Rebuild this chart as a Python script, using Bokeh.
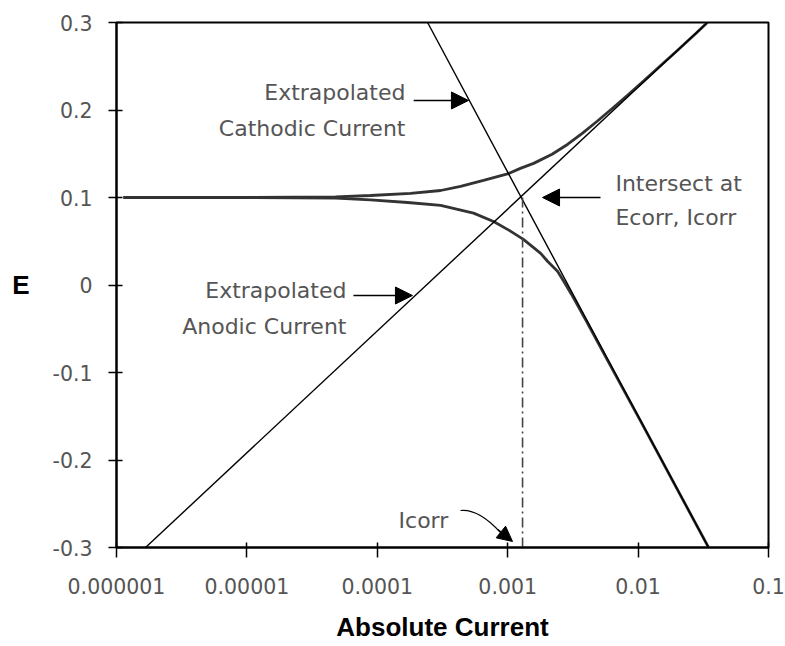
from bokeh.plotting import figure
from bokeh.models import Range1d, FixedTicker, Label, Arrow, NormalHead
from bokeh.embed import file_html
from bokeh.resources import INLINE

# ---- data ----
upper_current = [1.13e-6, 1.07e-5, 4.78e-5, 8.87e-5, 1.80e-4, 3.06e-4, 4.35e-4, 6.52e-4,
                 9.97e-4, 1.25e-3, 1.58e-3, 2.19e-3, 2.89e-3, 3.75e-3, 4.88e-3, 6.40e-3,
                 8.34e-3, 1.106e-2, 1.483e-2, 1.99e-2, 2.77e-2, 3.40e-2]
upper_potential = [0.1, 0.1, 0.1006, 0.1023, 0.1046, 0.108, 0.1126, 0.1195,
                   0.127, 0.1333, 0.139, 0.1494, 0.1609, 0.1736, 0.1874, 0.2023,
                   0.2172, 0.2333, 0.2506, 0.2678, 0.2874, 0.3]
lower_current = [1.13e-6, 1.07e-5, 4.78e-5, 8.87e-5, 1.71e-4, 3.06e-4, 5.47e-4, 7.79e-4,
                 1.027e-3, 1.32e-3, 1.79e-3, 2.02e-3, 2.41e-3, 2.69e-3, 3.08e-3, 4.01e-3,
                 5.71e-3, 1.043e-2, 3.47e-2]
lower_potential = [0.1, 0.1, 0.0994, 0.0972, 0.0943, 0.0909, 0.0821, 0.0726,
                   0.0624, 0.0521, 0.0362, 0.0271, 0.0157, 0.0043, -0.0105, -0.0413,
                   -0.0835, -0.1553, -0.3]
anodic_line_current = [1.67e-6, 3.40e-2]
anodic_line_potential = [-0.3, 0.3]
cathodic_line_current = [2.43e-4, 3.47e-2]
cathodic_line_potential = [0.3, -0.3]
icorr = 1.3e-3
ecorr = 0.1

x_ticks = [1e-6, 1e-5, 1e-4, 1e-3, 1e-2, 1e-1]
x_tick_labels = ["0.000001", "0.00001", "0.0001", "0.001", "0.01", "0.1"]
y_ticks = [-0.3, -0.2, -0.1, 0, 0.1, 0.2, 0.3]
y_tick_labels = ["-0.3", "-0.2", "-0.1", "0", "0.1", "0.2", "0.3"]

GREY = "#555555"
TFONT = "DejaVu Sans"

p = figure(width=785, height=646, x_axis_type="log",
           x_range=Range1d(1e-6, 0.1), y_range=Range1d(-0.3, 0.3),
           output_backend="svg", toolbar_location=None,
           min_border_left=116, min_border_right=17, min_border_top=22, min_border_bottom=99)
p.grid.visible = False
p.outline_line_color = "black"
p.outline_line_width = 2
p.background_fill_color = "white"
p.border_fill_color = "white"

p.xaxis.ticker = FixedTicker(ticks=x_ticks, minor_ticks=[])
p.xaxis.major_label_overrides = {t: s for t, s in zip(x_ticks, x_tick_labels)}
p.yaxis.ticker = FixedTicker(ticks=y_ticks, minor_ticks=[])
p.yaxis.major_label_overrides = {t: s for t, s in zip(y_ticks, y_tick_labels)}

for ax in (p.xaxis[0], p.yaxis[0]):
    ax.axis_line_color = "black"
    ax.axis_line_width = 2
    ax.major_tick_line_color = "black"
    ax.major_tick_line_width = 1.5
    ax.minor_tick_line_color = None
    ax.major_label_text_font = TFONT
    ax.major_label_text_font_size = "20.5px"
    ax.major_label_text_color = GREY
    ax.axis_label_text_font = "Liberation Sans"
    ax.axis_label_text_font_size = "26px"
    ax.axis_label_text_font_style = "bold"
    ax.axis_label_text_color = "black"
p.xaxis.major_tick_in = 5
p.xaxis.major_tick_out = 10
p.xaxis.major_label_standoff = 20
p.yaxis.major_tick_in = 6
p.yaxis.major_tick_out = 8
p.yaxis.major_label_standoff = 16

p.xaxis.axis_label = "Absolute Current"
p.xaxis.axis_label_standoff = 15
p.yaxis.axis_label = "E"
p.yaxis.axis_label_standoff = 20
if "axis_label_orientation" in p.yaxis[0].properties():
    p.yaxis.axis_label_orientation = "horizontal"

# measured curve
p.line(upper_current, upper_potential, line_color="#333333", line_width=2.8)
p.line(lower_current, lower_potential, line_color="#333333", line_width=2.8)
# extrapolated Tafel lines
p.line(anodic_line_current, anodic_line_potential, line_color="black", line_width=1.4)
p.line(cathodic_line_current, cathodic_line_potential, line_color="black", line_width=1.4)
# Icorr marker
p.line([icorr, icorr], [-0.3, ecorr], line_color="#444444", line_width=1.6, line_dash="10 4 2 4")

# annotations
def lab(x, y, text, align="left"):
    p.add_layout(Label(x=x, y=y, text=text, text_align=align, text_baseline="alphabetic",
                       text_font=TFONT, text_font_size="22px", text_color=GREY))

lab(1.644e-4, 0.22, "Extrapolated", "right")
lab(1.644e-4, 0.1792, "Cathodic Current", "right")
lab(5.8e-5, -0.0063, "Extrapolated", "right")
lab(5.8e-5, -0.0474, "Anodic Current", "right")
lab(6.7e-3, 0.116, "Intersect at")
lab(6.7e-3, 0.0771, "Ecorr, Icorr")
lab(1.456e-4, -0.269, "Icorr")

def arrow(x0, y0, x1, y1, size=17):
    p.add_layout(Arrow(end=NormalHead(size=size, fill_color="black", line_color="black"),
                       x_start=x0, y_start=y0, x_end=x1, y_end=y1,
                       line_color="black", line_width=1.4))

arrow(1.9e-4, 0.2109, 5.0e-4, 0.2109)
arrow(6.56e-5, -0.012, 1.86e-4, -0.012)
arrow(5.15e-3, 0.1, 1.85e-3, 0.1)
p.quadratic(x0=[4.345e-4], y0=[-0.2577], x1=[8.81e-4], y1=[-0.2829],
            cx=[5.97e-4], cy=[-0.2554], line_color="black", line_width=1.2)
arrow(8.4e-4, -0.2795, 1.089e-3, -0.2931, size=15)

open("out.html", "w").write(file_html(p, INLINE))
